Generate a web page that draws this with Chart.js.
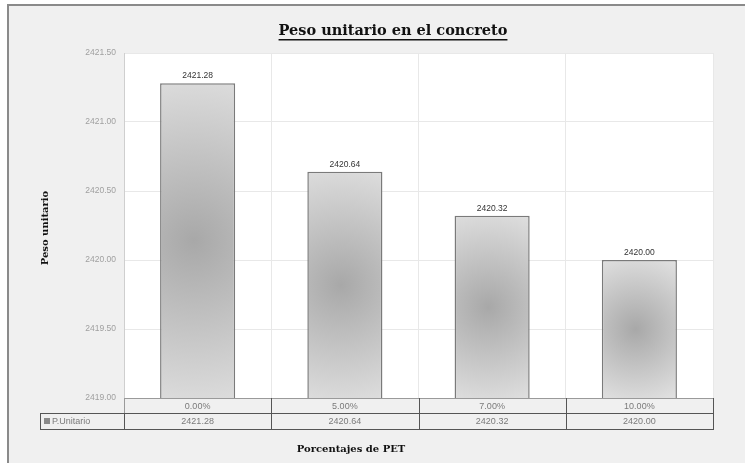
<!DOCTYPE html>
<html>
<head>
<meta charset="utf-8">
<script src="https://cdn.jsdelivr.net/npm/chart.js@4/dist/chart.umd.min.js"></script>
<style>
  html, body { margin: 0; padding: 0; background: #ffffff; }
  #wrap { width: 745px; height: 463px; position: relative; }
</style>
</head>
<body>
<div id="wrap"><canvas id="c" width="745" height="463"></canvas></div>
<script>
// Data
const categories = ['0.00%', '5.00%', '7.00%', '10.00%'];
const pesoUnitario = [2421.28, 2420.64, 2420.32, 2420.00];
const seriesName = 'P.Unitario';
const chartTitle = 'Peso unitario en el concreto';
const yTitle = 'Peso unitario';
const xTitle = 'Porcentajes de PET';

const SERIF = '"DejaVu Serif", "Liberation Serif", serif';
const SANS = '"Liberation Sans", Arial, sans-serif';

// Radial grey shading for each bar
function barFill(ctx) {
  const chart = ctx.chart;
  if (!chart.chartArea || ctx.type !== 'data') return '#c8c8c8';
  const xs = chart.scales.x, ys = chart.scales.y;
  const cx = xs.getPixelForValue(ctx.dataIndex);
  const top = ys.getPixelForValue(pesoUnitario[ctx.dataIndex]);
  const base = ys.bottom;
  const h = base - top;
  const w = xs.width / categories.length * 0.51;
  const gx = cx - w * 0.05, gy = top + h * 0.5;
  const g = chart.ctx.createRadialGradient(gx, gy, 0, gx, gy, Math.max(h * 0.6, w));
  g.addColorStop(0, '#a8a8a8');
  g.addColorStop(0.5, '#c6c6c6');
  g.addColorStop(1, '#e4e4e4');
  return g;
}

// Frame, grey panel and white plotting area
const backdrop = {
  id: 'backdrop',
  beforeDraw(chart) {
    const c = chart.ctx, a = chart.chartArea;
    c.save();
    c.fillStyle = '#ffffff';
    c.fillRect(0, 0, chart.width, chart.height);
    c.fillStyle = '#f0f0f0';
    c.fillRect(9, 6, chart.width - 9, chart.height - 6);
    c.strokeStyle = '#8a8a8a';
    c.lineWidth = 2;
    c.beginPath();
    c.moveTo(8, chart.height);
    c.lineTo(8, 5);
    c.lineTo(chart.width, 5);
    c.stroke();
    c.fillStyle = '#ffffff';
    c.fillRect(a.left, a.top, a.right - a.left, a.bottom - a.top);
    c.restore();
  }
};

// Titles, value labels and the data table under the axis
const decorations = {
  id: 'decorations',
  afterDatasetsDraw(chart) {
    const c = chart.ctx;
    const meta = chart.getDatasetMeta(0);
    c.save();
    c.fillStyle = '#333333';
    c.font = '8.5px ' + SANS;
    c.textAlign = 'center';
    c.textBaseline = 'bottom';
    meta.data.forEach((bar, i) => {
      c.fillText(pesoUnitario[i].toFixed(2), bar.x, bar.y - 3);
    });
    c.restore();
  },
  afterDraw(chart) {
    const c = chart.ctx, a = chart.chartArea;
    c.save();
    // chart title
    c.fillStyle = '#111111';
    c.font = 'bold 14.5px ' + SERIF;
    c.textAlign = 'center';
    c.textBaseline = 'middle';
    const tx = 393, ty = 31;
    c.fillText(chartTitle, tx, ty);
    const tw = c.measureText(chartTitle).width;
    c.fillRect(tx - tw / 2, ty + 8, tw, 1.5);

    // y axis title
    c.save();
    c.translate(45, 228);
    c.rotate(-Math.PI / 2);
    c.font = 'bold 10px ' + SERIF;
    c.fillText(yTitle, 0, 0);
    c.restore();

    // x axis title
    c.font = 'bold 10px ' + SERIF;
    c.fillText(xTitle, 351, 449);

    // data table
    const n = categories.length;
    const cw = (a.right - a.left) / n;
    const r1 = a.bottom, r2 = a.bottom + 15, r3 = a.bottom + 31;
    const legL = 40;
    c.lineWidth = 1;
    c.strokeStyle = '#9a9a9a';
    c.strokeRect(a.left + 0.5, r1 + 0.5, a.right - a.left, r2 - r1);
    c.strokeStyle = '#555555';
    c.strokeRect(legL + 0.5, r2 + 0.5, a.right - legL, r3 - r2);
    c.beginPath();
    for (let i = 0; i <= n; i++) {
      const x = Math.round(a.left + cw * i) + 0.5;
      c.moveTo(x, i === 0 ? r2 : r1);
      c.lineTo(x, r3);
    }
    c.stroke();
    c.fillStyle = '#7a7a7a';
    c.font = '9px ' + SANS;
    c.textAlign = 'center';
    for (let i = 0; i < n; i++) {
      const x = a.left + cw * (i + 0.5);
      c.fillText(categories[i], x, (r1 + r2) / 2 + 1);
      c.fillText(pesoUnitario[i].toFixed(2), x, (r2 + r3) / 2 + 1);
    }
    // legend cell
    c.fillStyle = '#8a8a8a';
    c.fillRect(legL + 4, r2 + 5, 6, 6);
    c.fillStyle = '#7a7a7a';
    c.textAlign = 'left';
    c.fillText(seriesName, legL + 12, (r2 + r3) / 2 + 1);
    c.restore();
  }
};

new Chart(document.getElementById('c'), {
  type: 'bar',
  data: {
    labels: categories,
    datasets: [{
      label: seriesName,
      data: pesoUnitario,
      backgroundColor: barFill,
      borderColor: '#7a7a7a',
      borderWidth: 1.5,
      barPercentage: 0.51,
      categoryPercentage: 1
    }]
  },
  options: {
    responsive: false,
    animation: false,
    layout: { padding: { top: 53, right: 32, bottom: 65, left: 0 } },
    plugins: {
      legend: { display: false },
      title: { display: false },
      tooltip: { enabled: false }
    },
    scales: {
      x: {
        ticks: { display: false },
        grid: { color: '#e8e8e8', drawTicks: false },
        border: { display: false },
        afterFit(scale) { scale.height = 0; }
      },
      y: {
        min: 2419,
        max: 2421.5,
        ticks: {
          stepSize: 0.5,
          color: '#a0a0a0',
          font: { family: SANS, size: 8.5 },
          padding: 8,
          callback: v => Number(v).toFixed(2)
        },
        grid: { color: '#e8e8e8', drawTicks: false },
        border: { display: true, color: '#cfcfcf' },
        afterFit(scale) { scale.width = 124; }
      }
    }
  },
  plugins: [backdrop, decorations]
});
</script>
</body>
</html>
